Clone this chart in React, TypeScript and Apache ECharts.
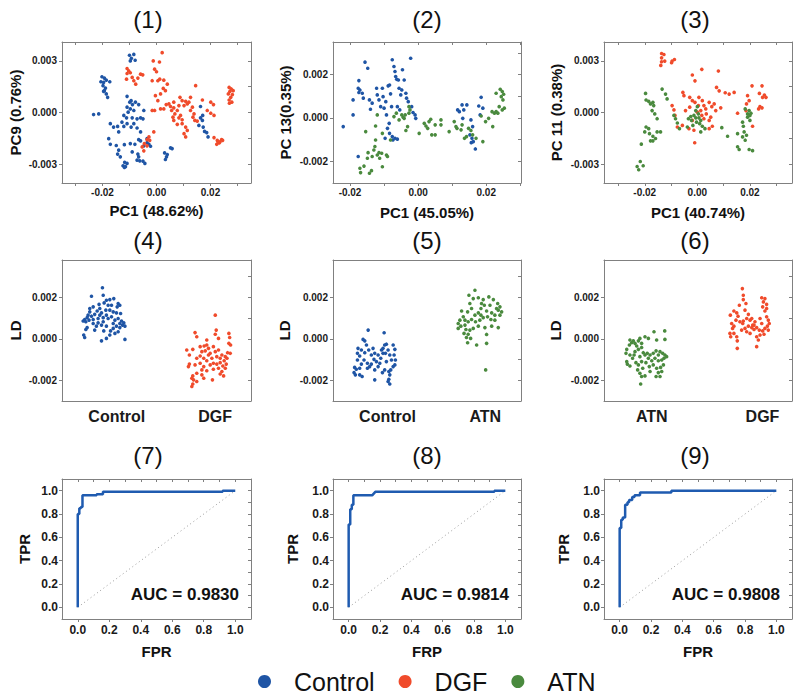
import React, { useEffect, useRef } from "react";
import * as echarts from "echarts";

const FONT = "'Liberation Sans', Arial, Helvetica, sans-serif";
const C_BLUE = "#1f55a5";
const C_RED = "#f04b2b";
const C_GREEN = "#4a8a3e";
const C_ROC = "#1f5bb0";
const AXIS_GRAY = "#808080";

// ---------- Panel (1): PCA Control vs DGF (PC1 vs PC9) ----------
const p1Control: number[][] = [
  [-0.0100,0.00333],[-0.0084,0.00338],[-0.0093,0.00315],[-0.0079,0.00304],[-0.0097,0.00300],
  [-0.0202,0.00208],[-0.0193,0.00200],[-0.0186,0.00188],[-0.0206,0.00179],[-0.0196,0.00175],[-0.0173,0.00179],[-0.0198,0.00156],[-0.0189,0.00142],[-0.0193,0.00127],[-0.0186,0.00108],[-0.0181,0.00088],[-0.0196,0.00123],
  [-0.0233,-0.00012],[-0.0214,-0.00008],
  [-0.0109,0.00094],[-0.0094,0.00069],[-0.0099,0.00060],[-0.0078,0.00060],[-0.0089,0.00046],[-0.0066,0.00046],[-0.0109,0.00031],[-0.0097,0.00021],[-0.0084,0.00012],[-0.0105,0.00002],[-0.0047,0.00012],[-0.0121,-0.00017],[-0.0111,-0.00031],[-0.0090,-0.00031],[-0.0072,-0.00037],[-0.0059,-0.00031],[-0.0050,-0.00037],[-0.0128,-0.00056],[-0.0109,-0.00065],[-0.0094,-0.00085],[-0.0121,-0.00081],[-0.0144,-0.00081],[-0.0171,-0.00065],[-0.0159,-0.00085],[-0.0140,-0.00113],[-0.0084,-0.00065],[-0.0072,-0.00090],[-0.0059,-0.00113],
  [-0.0177,-0.00152],[-0.0171,-0.00185],[-0.0149,-0.00192],[-0.0140,-0.00219],[-0.0144,-0.00242],[-0.0134,-0.00258],[-0.0119,-0.00187],[-0.0097,-0.00181],[-0.0080,-0.00185],[-0.0066,-0.00158],[-0.0059,-0.00165],[-0.0035,-0.00175],[-0.0028,-0.00185],[-0.0022,-0.00196],[-0.0035,-0.00152],[-0.0047,-0.00194],[-0.0118,-0.00290],[-0.0124,-0.00310],[-0.0115,-0.00315],[-0.0109,-0.00296],[-0.0119,-0.00319],[-0.0072,-0.00277],[-0.0062,-0.00281],[-0.0050,-0.00283],[-0.0043,-0.00296],[-0.0066,-0.00258],[-0.0090,-0.00229],[-0.0069,-0.00242],
  [0.0030,-0.00235],[0.0040,-0.00244],[0.0037,-0.00258],[0.0033,-0.00273],[0.0052,-0.00206],[0.0058,-0.00210],
  [0.0163,0.00035],[0.0163,-0.00031],[0.0170,-0.00046],[0.0157,-0.00075],[0.0173,-0.00085],[0.0178,-0.00110],[0.0186,-0.00117],[0.0191,-0.00142],[0.0171,-0.00017],
];
const p1DGF: number[][] = [
  [-0.0109,0.00256],[-0.0103,0.00242],[-0.0109,0.00227],[-0.0097,0.00231],[-0.0111,0.00194],[-0.0090,0.00204],[-0.0084,0.00185],[-0.0077,0.00165],[-0.0059,0.00223],[-0.0051,0.00219],[-0.0069,0.00200],
  [0.0021,0.00348],[-0.0012,0.00300],[0.0011,0.00294],[-0.0007,0.00252],[0.0000,0.00237],[0.0012,0.00194],[0.0027,0.00188],[-0.0016,0.00185],[0.0005,0.00185],[0.0040,0.00165],[0.0033,0.00127],[0.0025,0.00140],[0.0015,0.00108],[-0.0004,0.00098],[0.0005,0.00069],[-0.0007,0.00012],[-0.0016,0.00012],[0.0015,0.00021],[0.0027,0.00021],[0.0036,0.00046],[0.0052,0.00035],[0.0064,0.00027],[0.0077,0.00012],[0.0068,-0.00008],[0.0061,-0.00027],[0.0083,-0.00031],[0.0095,-0.00042],[0.0064,-0.00046],[0.0077,-0.00069],[0.0095,-0.00065],[0.0108,-0.00085],[0.0114,-0.00104],[0.0102,-0.00123],[0.0108,-0.00142],[0.0089,-0.00017],[0.0087,0.00088],[0.0095,0.00069],[0.0108,0.00065],[0.0120,0.00060],[0.0126,0.00012],[0.0139,-0.00008],[0.0135,-0.00027],[0.0142,-0.00046],[0.0151,-0.00050],[0.0145,0.00156],[0.0170,0.00073],[0.0201,0.00060],[0.0211,0.00046],[0.0133,0.00031],[0.0126,0.00088],[0.0114,0.00050],[0.0188,0.00012],[0.0201,-0.00004],[0.0213,-0.00017],[0.0102,0.00040],[0.0064,0.00060],[0.0056,0.00012],[0.0046,0.00050],[0.0083,0.00040],
  [-0.0010,-0.00113],[-0.0028,-0.00142],[-0.0035,-0.00158],[-0.0045,-0.00181],[-0.0053,-0.00200],[-0.0047,-0.00223],[-0.0025,-0.00162],[-0.0035,-0.00194],
  [0.0269,0.00146],[0.0277,0.00137],[0.0284,0.00127],[0.0272,0.00123],[0.0266,0.00108],[0.0281,0.00104],[0.0275,0.00088],[0.0269,0.00073],[0.0279,0.00060],[0.0270,0.00054],
  [0.0213,-0.00146],[0.0225,-0.00162],[0.0235,-0.00171],[0.0232,-0.00177],[0.0241,-0.00158],[0.0245,-0.00162],[0.0223,-0.00185],[0.0228,-0.00171],
];

// ---------- Panel (2): PCA Control vs ATN (PC1 vs PC13) ----------
const p2Control: number[][] = [
  [-0.0220,-0.00040],[-0.0191,0.00083],[-0.0191,0.00014],[-0.0174,0.00172],[-0.0176,0.00137],[-0.0171,0.00129],[-0.0174,0.00117],[-0.0164,0.00114],[-0.0161,0.00091],[-0.0156,0.00257],[-0.0148,0.00229],[-0.0143,0.00083],[-0.0140,0.00040],[-0.0135,0.00068],[-0.0176,-0.00178],
  [-0.0122,0.00137],[-0.0120,0.00106],[-0.0115,0.00083],[-0.0110,0.00052],[-0.0105,0.00137],[-0.0103,0.00098],[-0.0100,0.00045],[-0.0095,0.00075],[-0.0093,0.00014],[-0.0088,0.00148],[-0.0084,0.00152],[-0.0081,0.00111],[-0.0078,0.00052],[-0.0076,0.00268],[-0.0071,0.00237],[-0.0068,0.00214],[-0.0066,0.00191],[-0.0063,0.00178],[-0.0058,0.00175],[-0.0056,0.00137],[-0.0048,0.00129],[-0.0051,0.00106],[-0.0061,0.00052],[-0.0054,0.00037],
  [-0.0085,-0.00025],[-0.0090,-0.00048],[-0.0084,-0.00071],[-0.0076,-0.00086],[-0.0068,-0.00094],[-0.0074,-0.00102],[-0.0061,-0.00098],[-0.0097,-0.00094],
  [-0.0046,0.00222],[-0.0041,0.00175],[-0.0036,0.00114],[-0.0034,0.00091],[-0.0029,0.00075],[-0.0022,0.00275],[-0.0019,0.00052],[-0.0015,0.00025],[-0.0009,0.00014],[-0.0007,-0.00002],
  [0.0116,0.00037],[0.0121,0.00029],[0.0129,0.00060],[0.0134,0.00037],[0.0143,0.00060],[0.0155,-0.00009],[0.0160,-0.00040],[0.0178,0.00055],[0.0185,0.00095],[0.0190,0.00045],[0.0182,0.00014],[0.0152,-0.00078],[0.0158,-0.00094],[0.0162,-0.00109],[0.0168,-0.00143],[0.0156,-0.00114],[0.0131,-0.00002],
];
const p2ATN: number[][] = [
  [-0.0171,-0.00232],[-0.0169,-0.00252],[-0.0159,-0.00222],[-0.0149,-0.00186],[-0.0147,-0.00160],[-0.0143,-0.00255],[-0.0137,-0.00243],[-0.0135,-0.00178],[-0.0130,-0.00148],[-0.0127,-0.00132],[-0.0125,-0.00102],[-0.0120,-0.00171],[-0.0115,-0.00160],[-0.0113,-0.00186],[-0.0105,-0.00225],[-0.0107,-0.00163],[-0.0093,-0.00171],[-0.0090,-0.00178],
  [-0.0154,-0.00063],[-0.0125,-0.00037],[-0.0120,0.00014],[-0.0105,-0.00071],[-0.0081,-0.00102],[-0.0071,0.00006],[-0.0064,0.00022],[-0.0056,-0.00009],[-0.0048,0.00014],[-0.0044,0.00003],[-0.0041,-0.00002],[-0.0038,0.00014],[-0.0036,-0.00058],[-0.0031,-0.00040],[-0.0027,0.00052],[-0.0024,0.00037],[-0.0027,0.00022],
  [0.0003,-0.00071],[0.0018,-0.00025],[0.0023,-0.00037],[0.0028,-0.00048],[0.0032,-0.00017],[0.0037,-0.00006],[0.0040,-0.00078],[0.0050,-0.00078],[0.0050,-0.00032],[0.0067,-0.00009],[0.0067,-0.00032],[0.0091,-0.00063],[0.0106,-0.00017],[0.0111,-0.00040],[0.0114,-0.00048],[0.0126,-0.00055],[0.0129,-0.00032],[0.0136,-0.00094],[0.0148,-0.00048],[0.0142,-0.00086],[0.0155,-0.00058],[0.0160,-0.00078],[0.0170,-0.00094],[0.0190,-0.00109],
  [0.0185,0.00009],[0.0198,-0.00017],[0.0207,-0.00002],[0.0217,0.00029],[0.0224,0.00022],[0.0219,-0.00040],[0.0229,0.00114],[0.0241,0.00132],[0.0247,0.00122],[0.0251,0.00109],[0.0244,0.00098],[0.0249,0.00083],[0.0238,0.00052],[0.0247,0.00037],[0.0253,0.00045],[0.0229,0.00029],[0.0234,0.00022],
];

// ---------- Panel (3): PCA DGF vs ATN (PC1 vs PC11) ----------
const p3DGF: number[][] = [
  [-0.0136,0.00343],[-0.0127,0.00337],[-0.0136,0.00318],[-0.0124,0.00299],[-0.0136,0.00295],[-0.0139,0.00274],[-0.0096,0.00299],[-0.0087,0.00308],[-0.0098,0.00289],
  [-0.0019,0.00218],[0.0017,0.00251],[0.0080,0.00241],[-0.0009,0.00184],[0.0073,0.00146],[0.0083,0.00126],[0.0106,0.00115],[0.0121,0.00107],[0.0140,0.00117],[0.0191,0.00098],[0.0197,0.00069],[0.0187,0.00050],[0.0208,0.00155],[0.0236,0.00111],[0.0246,0.00155],[0.0255,0.00102],[0.0261,0.00088],[0.0248,0.00088],[0.0238,0.00034],[0.0246,0.00027],[0.0233,0.00021],[0.0210,-0.00080],
  [-0.0055,0.00117],[-0.0051,0.00098],[-0.0029,0.00088],[-0.0019,0.00069],[-0.0009,0.00059],[0.0006,0.00088],[0.0019,0.00069],[0.0004,0.00040],[0.0025,0.00040],[0.0032,0.00021],[0.0045,0.00059],[0.0055,0.00034],[0.0064,0.00050],[0.0089,0.00027],[-0.0029,0.00031],[-0.0045,0.00011],[-0.0096,0.00040],[-0.0089,0.00015],[-0.0085,-0.00017],[-0.0076,-0.00084],[-0.0057,-0.00075],[-0.0032,-0.00094],[-0.0019,-0.00046],[-0.0013,-0.00103],[-0.0010,-0.00176],[0.0017,-0.00017],[0.0025,-0.00036],[0.0034,-0.00008],[0.0045,-0.00046],[0.0051,-0.00027],[0.0045,-0.00094],[0.0057,-0.00080],[0.0070,0.00011],[0.0153,-0.00004],[0.0185,0.00011],[0.0013,0.00011],[0.0000,0.00002],
];
const p3ATN: number[][] = [
  [-0.0229,-0.00314],[-0.0223,-0.00333],[-0.0217,-0.00285],[-0.0206,-0.00310],[-0.0213,-0.00184],
  [-0.0197,0.00111],[-0.0195,0.00073],[-0.0185,0.00065],[-0.0178,0.00050],[-0.0169,0.00059],[-0.0166,0.00040],[-0.0172,0.00011],[-0.0162,-0.00008],[-0.0153,-0.00036],[-0.0195,-0.00084],[-0.0185,-0.00094],[-0.0200,-0.00113],[-0.0182,-0.00123],[-0.0169,-0.00138],[-0.0159,-0.00151],[-0.0169,-0.00165],[-0.0178,-0.00165],[-0.0153,-0.00113],[-0.0140,-0.00113],
  [-0.0134,0.00136],[-0.0121,0.00107],[-0.0115,0.00079],[-0.0089,-0.00017],[-0.0083,-0.00036],[-0.0076,-0.00061],[-0.0068,-0.00094],[-0.0038,-0.00084],[-0.0034,-0.00036],[-0.0025,-0.00023],[-0.0022,-0.00046],[-0.0013,-0.00017],[-0.0006,-0.00031],[-0.0003,-0.00056],[0.0004,-0.00008],[0.0006,-0.00031],[0.0013,-0.00046],[-0.0017,-0.00075],[0.0013,-0.00113],[0.0019,-0.00080],[0.0029,-0.00094],[0.0009,-0.00065],[-0.0006,0.00011],[0.0000,0.00034],
  [0.0093,-0.00088],[0.0115,-0.00138],[0.0153,-0.00123],[0.0153,-0.00199],[0.0159,-0.00215],[0.0172,-0.00056],[0.0175,-0.00080],[0.0178,-0.00113],[0.0172,-0.00142],[0.0182,-0.00161],[0.0187,-0.00132],[0.0182,0.00021],[0.0191,-0.00008],[0.0197,0.00011],[0.0200,-0.00017],[0.0204,-0.00004],[0.0191,-0.00027],[0.0197,-0.00215],[0.0210,-0.00222],[0.0200,-0.00046],
];

// ---------- Panels (4)-(6): LD scores, [jittered position, LD] ----------
const p4Control: number[][] = [
  [0.214,0.00246],[0.156,0.00205],[0.218,0.00210],[0.235,0.00186],[0.253,0.00189],[0.274,0.00194],[0.223,0.00173],[0.196,0.00166],[0.244,0.00162],[0.262,0.00162],[0.297,0.00170],[0.306,0.00162],[0.165,0.00154],[0.200,0.00146],[0.186,0.00134],[0.147,0.00130],[0.173,0.00118],[0.209,0.00125],[0.232,0.00138],[0.271,0.00130],[0.288,0.00125],[0.310,0.00122],[0.138,0.00114],[0.156,0.00109],[0.133,0.00102],[0.120,0.00093],[0.112,0.00086],[0.126,0.00082],[0.143,0.00090],[0.165,0.00093],[0.191,0.00098],[0.218,0.00102],[0.244,0.00098],[0.262,0.00106],[0.280,0.00090],[0.297,0.00098],[0.315,0.00086],[0.327,0.00077],[0.320,0.00066],[0.333,0.00061],[0.306,0.00054],[0.288,0.00061],[0.271,0.00050],[0.235,0.00061],[0.209,0.00066],[0.182,0.00061],[0.133,0.00054],[0.126,0.00045],[0.173,0.00042],[0.221,0.00038],[0.257,0.00038],[0.297,0.00034],[0.280,0.00026],[0.253,0.00018],[0.115,0.00018],[0.120,0.00006],[0.235,0.00002],[0.209,-0.00010],[0.333,-0.00003],[0.200,0.00114],[0.235,0.00114],[0.165,0.00074],[0.191,0.00077],[0.271,0.00074],[0.306,0.00074],[0.218,0.00082],[0.253,0.00138],[0.147,0.00146],[0.292,0.00154],
];
const p4DGF: number[][] = [
  [0.811,0.00114],[0.704,0.00030],[0.713,0.00010],[0.816,0.00042],[0.811,0.00022],[0.883,0.00026],[0.887,0.00006],[0.828,0.00002],[0.766,-0.00006],[0.883,-0.00022],[0.892,-0.00030],[0.660,-0.00054],[0.674,-0.00078],[0.692,-0.00051],[0.731,-0.00038],[0.752,-0.00035],[0.766,-0.00030],[0.775,-0.00046],[0.758,-0.00058],[0.784,-0.00070],[0.811,-0.00062],[0.828,-0.00054],[0.731,-0.00083],[0.713,-0.00094],[0.750,-0.00094],[0.766,-0.00106],[0.793,-0.00094],[0.819,-0.00086],[0.837,-0.00094],[0.846,-0.00078],[0.864,-0.00086],[0.876,-0.00067],[0.873,-0.00094],[0.858,-0.00106],[0.837,-0.00115],[0.819,-0.00122],[0.801,-0.00118],[0.784,-0.00126],[0.731,-0.00118],[0.704,-0.00126],[0.674,-0.00122],[0.669,-0.00134],[0.750,-0.00134],[0.828,-0.00142],[0.851,-0.00131],[0.869,-0.00122],[0.864,-0.00142],[0.846,-0.00158],[0.837,-0.00170],[0.855,-0.00179],[0.801,-0.00147],[0.766,-0.00154],[0.740,-0.00150],[0.740,-0.00174],[0.713,-0.00166],[0.692,-0.00179],[0.687,-0.00190],[0.696,-0.00198],[0.692,-0.00218],[0.687,-0.00230],[0.713,-0.00206],[0.750,-0.00190],[0.796,-0.00198],[0.775,-0.00078],[0.801,-0.00038],[0.740,-0.00062],[0.890,-0.00070],
];
const p5Control: number[][] = [
  [0.187,0.00042],[0.160,-0.00003],[0.169,-0.00010],[0.272,0.00029],[0.178,-0.00030],[0.133,-0.00046],[0.151,-0.00054],[0.130,-0.00070],[0.142,-0.00083],[0.169,-0.00067],[0.190,-0.00054],[0.204,-0.00078],[0.222,-0.00070],[0.240,-0.00078],[0.258,-0.00054],[0.266,-0.00046],[0.275,-0.00030],[0.284,-0.00026],[0.279,-0.00070],[0.293,-0.00054],[0.302,-0.00078],[0.320,-0.00030],[0.329,-0.00051],[0.325,-0.00078],[0.332,-0.00102],[0.329,-0.00126],[0.320,-0.00134],[0.307,-0.00150],[0.297,-0.00158],[0.302,-0.00174],[0.297,-0.00195],[0.302,-0.00218],[0.293,-0.00206],[0.254,-0.00094],[0.249,-0.00118],[0.240,-0.00134],[0.231,-0.00110],[0.218,-0.00099],[0.204,-0.00122],[0.195,-0.00134],[0.183,-0.00118],[0.165,-0.00102],[0.183,-0.00142],[0.222,-0.00150],[0.222,-0.00198],[0.115,-0.00138],[0.124,-0.00147],[0.112,-0.00163],[0.119,-0.00174],[0.142,-0.00174],[0.155,-0.00182],[0.142,-0.00142],[0.151,-0.00122],[0.130,-0.00102],[0.275,-0.00150],[0.263,-0.00163],[0.284,-0.00110],[0.311,-0.00102],[0.266,-0.00070],[0.213,-0.00046],
];
const p5ATN: number[][] = [
  [0.755,0.00234],[0.723,0.00210],[0.746,0.00194],[0.773,0.00198],[0.799,0.00189],[0.829,0.00202],[0.853,0.00189],[0.876,0.00170],[0.888,0.00154],[0.879,0.00138],[0.897,0.00130],[0.888,0.00114],[0.861,0.00114],[0.844,0.00125],[0.817,0.00134],[0.805,0.00162],[0.787,0.00146],[0.773,0.00125],[0.755,0.00114],[0.737,0.00146],[0.716,0.00130],[0.684,0.00134],[0.693,0.00106],[0.675,0.00090],[0.666,0.00074],[0.680,0.00061],[0.702,0.00066],[0.719,0.00082],[0.737,0.00093],[0.758,0.00082],[0.781,0.00090],[0.799,0.00102],[0.822,0.00106],[0.840,0.00093],[0.861,0.00090],[0.879,0.00054],[0.844,0.00061],[0.808,0.00054],[0.773,0.00061],[0.746,0.00050],[0.728,0.00042],[0.707,0.00045],[0.697,0.00026],[0.719,0.00022],[0.710,0.00006],[0.732,0.00002],[0.716,-0.00019],[0.764,-0.00030],[0.817,-0.00022],[0.817,0.00021],[0.812,-0.00150],[0.790,0.00170],[0.835,0.00162],[0.870,0.00146],[0.728,0.00170],[0.787,0.00114],[0.702,0.00090],[0.666,0.00050],
];
const p6ATN: number[][] = [
  [0.138,-0.00006],[0.147,-0.00019],[0.135,-0.00030],[0.156,-0.00010],[0.165,-0.00022],[0.174,-0.00035],[0.183,-0.00010],[0.191,0.00002],[0.200,-0.00022],[0.218,0.00010],[0.236,0.00002],[0.266,0.00034],[0.323,0.00038],[0.324,-0.00003],[0.280,-0.00006],[0.121,-0.00051],[0.117,-0.00070],[0.138,-0.00078],[0.165,-0.00062],[0.183,-0.00051],[0.200,-0.00042],[0.209,-0.00067],[0.218,-0.00078],[0.230,-0.00070],[0.245,-0.00078],[0.262,-0.00070],[0.277,-0.00058],[0.289,-0.00078],[0.298,-0.00062],[0.312,-0.00070],[0.324,-0.00078],[0.333,-0.00086],[0.319,-0.00094],[0.307,-0.00102],[0.289,-0.00106],[0.271,-0.00094],[0.254,-0.00106],[0.236,-0.00094],[0.223,-0.00115],[0.200,-0.00110],[0.183,-0.00126],[0.170,-0.00115],[0.121,-0.00110],[0.124,-0.00122],[0.138,-0.00131],[0.179,-0.00150],[0.206,-0.00142],[0.191,-0.00166],[0.200,-0.00182],[0.195,-0.00218],[0.218,-0.00179],[0.241,-0.00134],[0.262,-0.00126],[0.280,-0.00142],[0.301,-0.00138],[0.316,-0.00126],[0.289,-0.00163],[0.277,-0.00182],[0.298,-0.00182],[0.307,-0.00158],[0.245,-0.00158],[0.160,-0.00078],[0.191,-0.00086],[0.152,-0.00094],
];
const p6DGF: number[][] = [
  [0.736,0.00242],[0.741,0.00210],[0.741,0.00189],[0.839,0.00198],[0.856,0.00194],[0.848,0.00178],[0.865,0.00166],[0.844,0.00154],[0.865,0.00146],[0.856,0.00134],[0.691,0.00134],[0.706,0.00125],[0.672,0.00114],[0.713,0.00109],[0.750,0.00138],[0.768,0.00118],[0.759,0.00098],[0.777,0.00090],[0.741,0.00086],[0.723,0.00082],[0.702,0.00090],[0.679,0.00074],[0.691,0.00061],[0.684,0.00050],[0.670,0.00026],[0.674,0.00010],[0.691,0.00026],[0.706,0.00010],[0.709,-0.00010],[0.709,-0.00046],[0.732,0.00042],[0.750,0.00050],[0.768,0.00061],[0.786,0.00054],[0.798,0.00045],[0.791,0.00066],[0.812,0.00054],[0.826,0.00042],[0.830,0.00018],[0.812,0.00010],[0.821,-0.00006],[0.812,-0.00038],[0.844,0.00038],[0.856,0.00050],[0.869,0.00061],[0.874,0.00042],[0.879,0.00074],[0.874,0.00090],[0.865,0.00106],[0.830,0.00098],[0.839,0.00074],[0.803,0.00082],[0.786,0.00098],[0.738,0.00074],[0.759,0.00034],[0.777,0.00026],[0.851,0.00022],[0.798,0.00066],[0.720,0.00162],[0.755,0.00170],
];

// ---------- Panels (7)-(9): ROC curves [FPR, TPR] ----------
const roc7: number[][] = [[0,0],[0,0.80],[0.01,0.80],[0.01,0.85],[0.02,0.85],[0.02,0.86],[0.03,0.86],[0.03,0.96],[0.12,0.96],[0.12,0.97],[0.16,0.97],[0.16,0.99],[0.92,0.99],[0.92,1.0],[1.0,1.0]];
const roc8: number[][] = [[0,0],[0,0.71],[0.01,0.71],[0.01,0.84],[0.02,0.84],[0.02,0.88],[0.03,0.88],[0.03,0.96],[0.15,0.96],[0.17,0.99],[0.93,0.99],[0.93,1.0],[1.0,1.0]];
const roc9: number[][] = [[0,0],[0,0.68],[0.01,0.68],[0.01,0.75],[0.02,0.75],[0.02,0.77],[0.035,0.77],[0.035,0.88],[0.05,0.88],[0.05,0.90],[0.06,0.90],[0.06,0.92],[0.08,0.92],[0.08,0.945],[0.095,0.945],[0.095,0.96],[0.13,0.96],[0.13,0.985],[0.33,0.985],[0.33,1.0],[1.0,1.0]];
const chanceLine: number[][] = [[0,0],[1,1]];
const aucTexts = ["AUC = 0.9830", "AUC = 0.9814", "AUC = 0.9808"];

// ---------- Texts & ticks ----------
const panelTitles = ["(1)","(2)","(3)","(4)","(5)","(6)","(7)","(8)","(9)"];
const xNames = ["PC1 (48.62%)","PC1 (45.05%)","PC1 (40.74%)","","","","FPR","FRP","FPR"];
const yNames = ["PC9 (0.76%)","PC 13(0.35%)","PC 11 (0.38%)","LD","LD","LD","TPR","TPR","TPR"];
const ldCategories = [["Control","DGF"],["Control","ATN"],["ATN","DGF"]];
const ldCategoryPos = [[0.29,0.81],[0.29,0.81],[0.254,0.843]];
const legendNames = ["Control","DGF","ATN"];

const pcaXLabels = [-0.02,0,0.02];
const pcaXMinor = [-0.03,-0.02,-0.01,0,0.01,0.02,0.03];
const pc3YLabels = [-0.003,0,0.003];
const pc3YMinor = [-0.003,-0.0015,0,0.0015,0.003];
const pc2YLabels = [-0.002,0,0.002];
const pc2YMinor = [-0.003,-0.002,-0.001,0,0.001,0.002,0.003];
const ldYLabels = [-0.002,0,0.002];
const ldYMinor = [-0.003,-0.002,-0.001,0,0.001,0.002,0.003];
const rocLabels = [0,0.2,0.4,0.6,0.8,1.0];
const rocMinor = [0,0.1,0.2,0.3,0.4,0.5,0.6,0.7,0.8,0.9,1.0];

// ---------- Layout ----------
const colLeft = [62, 333, 604];
const colWidth = [189, 188, 188];
const rowTop = [42, 260, 479];
const rowHeight = [141, 141, 140];
const titleX = [148, 427, 695];
const titleY = [19, 240, 455];

type Spec = {
  xMin: number; xMax: number; yMin: number; yMax: number;
  xLabels: number[]; xMinor: number[]; yLabels: number[]; yMinor: number[];
  xFmt: (v: number) => string; yFmt: (v: number) => string;
  xFont: number; yFont: number; xMargin: number; yMargin: number;
  xNameGap: number; yNameGap: number; xTicks: boolean;
};

function buildOption() {
  const fx2 = (v: number) => (Math.abs(v) < 1e-12 ? "0.00" : v.toFixed(2));
  const fy3 = (v: number) => (Math.abs(v) < 1e-12 ? "0.000" : v.toFixed(3));
  const f1 = (v: number) => (Math.abs(v) < 1e-12 ? "0.0" : v.toFixed(1));

  const specs: Spec[] = [];
  // row 1
  specs.push({ xMin: -0.035, xMax: 0.035, yMin: -0.0041, yMax: 0.0041, xLabels: pcaXLabels, xMinor: pcaXMinor, yLabels: pc3YLabels, yMinor: pc3YMinor, xFmt: fx2, yFmt: fy3, xFont: 10, yFont: 10, xMargin: 4, yMargin: 5, xNameGap: 20, yNameGap: 39, xTicks: true });
  specs.push({ xMin: -0.025, xMax: 0.0302, yMin: -0.003, yMax: 0.0035, xLabels: pcaXLabels, xMinor: pcaXMinor.filter((v) => v > -0.026), yLabels: pc2YLabels, yMinor: pc2YMinor, xFmt: fx2, yFmt: fy3, xFont: 10, yFont: 10, xMargin: 4, yMargin: 5, xNameGap: 22, yNameGap: 40, xTicks: true });
  specs.push({ xMin: -0.0355, xMax: 0.036, yMin: -0.0041, yMax: 0.0041, xLabels: pcaXLabels, xMinor: pcaXMinor, yLabels: pc3YLabels, yMinor: pc3YMinor, xFmt: fx2, yFmt: fy3, xFont: 10, yFont: 10, xMargin: 4, yMargin: 5, xNameGap: 22, yNameGap: 40, xTicks: true });
  // row 2
  for (let k = 0; k < 3; k++) {
    const cats = ldCategories[k];
    const pos = ldCategoryPos[k];
    specs.push({
      xMin: 0, xMax: 1, yMin: -0.003, yMax: 0.0038,
      xLabels: pos, xMinor: [], yLabels: ldYLabels, yMinor: ldYMinor,
      xFmt: (v: number) => (Math.abs(v - pos[0]) < Math.abs(v - pos[1]) ? cats[0] : cats[1]),
      yFmt: fy3, xFont: 16, yFont: 10, xMargin: 7, yMargin: 5, xNameGap: 20,
      yNameGap: [39, 41, 41][k], xTicks: false,
    });
  }
  // row 3
  for (let k = 0; k < 3; k++) {
    specs.push({
      xMin: -0.1, xMax: 1.1, yMin: -0.1, yMax: 1.1,
      xLabels: rocLabels, xMinor: rocMinor, yLabels: rocLabels, yMinor: rocMinor,
      xFmt: f1, yFmt: f1, xFont: 12, yFont: 12, xMargin: 5, yMargin: 4,
      xNameGap: 25, yNameGap: [30, 33, 33][k], xTicks: true,
    });
  }

  const grids: any[] = [];
  const xAxes: any[] = [];
  const yAxes: any[] = [];
  const lineStyle = { color: AXIS_GRAY, width: 1 };
  const tickLabel = (size: number, margin: number, values: number[], fmt: (v: number) => string) => ({
    show: true, customValues: values, formatter: fmt, fontSize: size, fontWeight: "bold",
    fontFamily: FONT, color: "#1a1a1a", margin,
  });
  const nameStyle = { fontSize: 15, fontWeight: "bold", fontFamily: FONT, color: "#111" };

  specs.forEach((s, i) => {
    const r = Math.floor(i / 3);
    const c = i % 3;
    grids.push({ left: colLeft[c], top: rowTop[r], width: colWidth[c], height: rowHeight[r], outerBoundsMode: "none", containLabel: false });
    xAxes.push({
      type: "value", gridIndex: i, position: "bottom", min: s.xMin, max: s.xMax,
      splitLine: { show: false },
      axisLine: { show: true, onZero: false, lineStyle },
      axisTick: { show: s.xTicks, inside: false, length: 3, customValues: r === 2 ? s.xLabels : s.xMinor, lineStyle },
      axisLabel: tickLabel(s.xFont, s.xMargin, s.xLabels, s.xFmt),
      name: xNames[i], nameLocation: "middle", nameGap: s.xNameGap, nameTextStyle: nameStyle,
    });
    xAxes.push({
      type: "value", gridIndex: i, position: "top", min: s.xMin, max: s.xMax,
      splitLine: { show: false },
      axisLine: { show: true, onZero: false, lineStyle },
      axisTick: { show: s.xMinor.length > 0, inside: true, length: 3, customValues: s.xMinor.length ? s.xMinor : undefined, lineStyle },
      axisLabel: { show: false },
    });
    yAxes.push({
      type: "value", gridIndex: i, position: "left", min: s.yMin, max: s.yMax,
      splitLine: { show: false },
      axisLine: { show: true, onZero: false, lineStyle },
      axisTick: { show: true, inside: false, length: 3, customValues: s.yLabels, lineStyle },
      axisLabel: tickLabel(s.yFont, s.yMargin, s.yLabels, s.yFmt),
      name: yNames[i], nameLocation: "middle", nameGap: s.yNameGap, nameTextStyle: nameStyle,
    });
    yAxes.push({
      type: "value", gridIndex: i, position: "right", min: s.yMin, max: s.yMax,
      splitLine: { show: false },
      axisLine: { show: true, onZero: false, lineStyle },
      axisTick: { show: true, inside: true, length: 3, customValues: s.yMinor, lineStyle },
      axisLabel: { show: false },
    });
  });

  const scatter = (i: number, name: string, data: number[][], color: string) => ({
    type: "scatter", name, xAxisIndex: 2 * i, yAxisIndex: 2 * i, data,
    symbol: "circle", symbolSize: 3.6, itemStyle: { color, opacity: 1 }, silent: true, z: 3,
  });
  const series: any[] = [
    scatter(0, "Control", p1Control, C_BLUE), scatter(0, "DGF", p1DGF, C_RED),
    scatter(1, "Control", p2Control, C_BLUE), scatter(1, "ATN", p2ATN, C_GREEN),
    scatter(2, "DGF", p3DGF, C_RED), scatter(2, "ATN", p3ATN, C_GREEN),
    scatter(3, "Control", p4Control, C_BLUE), scatter(3, "DGF", p4DGF, C_RED),
    scatter(4, "Control", p5Control, C_BLUE), scatter(4, "ATN", p5ATN, C_GREEN),
    scatter(5, "ATN", p6ATN, C_GREEN), scatter(5, "DGF", p6DGF, C_RED),
  ];
  const rocs = [roc7, roc8, roc9];
  rocs.forEach((d, k) => {
    const i = 6 + k;
    series.push({
      type: "line", name: "chance" + (k + 7), xAxisIndex: 2 * i, yAxisIndex: 2 * i, data: chanceLine,
      showSymbol: false, silent: true, lineStyle: { color: "#9a9a9a", width: 1, type: [1, 3] }, z: 2,
    });
    series.push({
      type: "line", name: "ROC" + (k + 7), xAxisIndex: 2 * i, yAxisIndex: 2 * i, data: d,
      showSymbol: false, silent: true, lineStyle: { color: C_ROC, width: 2.5 }, z: 3,
    });
  });

  const graphics: any[] = [];
  panelTitles.forEach((t, i) => {
    const r = Math.floor(i / 3);
    const c = i % 3;
    graphics.push({
      type: "text", x: titleX[c], y: titleY[r],
      style: { text: t, fontSize: 24, fontFamily: FONT, fill: "#111", align: "center", verticalAlign: "middle" },
    });
  });
  aucTexts.forEach((t, k) => {
    graphics.push({
      type: "text", x: colLeft[k] + colWidth[k] - 12, y: 594,
      style: { text: t, fontSize: 17, fontWeight: "bold", fontFamily: FONT, fill: "#111", align: "right", verticalAlign: "middle" },
    });
  });

  return {
    animation: false,
    backgroundColor: "#ffffff",
    textStyle: { fontFamily: FONT },
    grid: grids,
    xAxis: xAxes,
    yAxis: yAxes,
    legend: {
      data: legendNames.map((n) => ({ name: n, icon: "circle" })),
      left: 253, top: 664, itemWidth: 13, itemHeight: 13, itemGap: 24,
      selectedMode: false,
      textStyle: { fontSize: 25, fontFamily: FONT, color: "#111", padding: [0, 0, 0, 18] },
    },
    graphic: graphics,
    series,
  };
}

export default function App() {
  const ref = useRef<HTMLDivElement>(null);
  useEffect(() => {
    document.body.style.margin = "0";
    if (!ref.current) return;
    const chart = echarts.init(ref.current, undefined, { renderer: "svg" });
    chart.setOption(buildOption() as any);
    return () => chart.dispose();
  }, []);
  return <div ref={ref} style={{ width: 800, height: 698, background: "#fff" }} />;
}
